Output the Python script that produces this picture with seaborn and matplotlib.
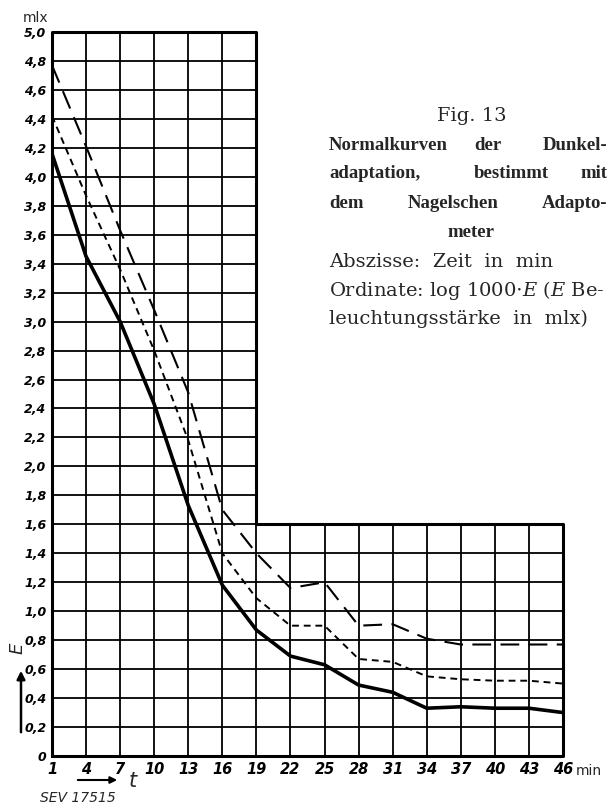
import numpy as np
import pandas as pd
import matplotlib
matplotlib.use("Agg")
import matplotlib.pyplot as plt
import seaborn as sns

# ---- data ----
t_min = [1, 4, 7, 10, 13, 16, 19, 22, 25, 28, 31, 34, 37, 40, 43, 46]
solid_curve = [4.16, 3.45, 3.00, 2.43, 1.73, 1.18, 0.87, 0.69, 0.63, 0.49, 0.44, 0.33, 0.34, 0.33, 0.33, 0.30]
short_dash_curve = [4.42, 3.87, 3.36, 2.80, 2.18, 1.40, 1.09, 0.90, 0.90, 0.67, 0.65, 0.55, 0.53, 0.52, 0.52, 0.50]
long_dash_curve = [4.77, 4.21, 3.63, 3.08, 2.51, 1.70, 1.40, 1.16, 1.20, 0.90, 0.91, 0.81, 0.77, 0.77, 0.77, 0.77]
y_ticks = [round(0.2 * i, 1) for i in range(26)]
y_tick_labels = ["0"] + [f"{v:.1f}".replace(".", ",") for v in y_ticks[1:]]
x_tick_labels = [str(v) for v in t_min]
x_step = 19      # grid column up to which the tall part extends
y_step = 1.6     # height of the low part of the grid

sns.set_theme(style="white")
plt.rcParams['font.family'] = ['DejaVu Sans']

W, H = 614, 808
fig = plt.figure(figsize=(W / 100, H / 100), dpi=100)
L, R, T, B = 52, 563, 32, 756
ax = fig.add_axes([L / W, 1 - B / H, (R - L) / W, (B - T) / H])
ax.set_xlim(1, 46)
ax.set_ylim(0, 5.0)
for s in ax.spines.values():
    s.set_visible(False)
ax.set_facecolor("white")
ax.grid(False)

gkw = dict(color="black", lw=1.3, solid_capstyle="butt", zorder=1, clip_on=False)
# vertical grid lines
for x in t_min:
    top = 5.0 if x <= x_step else y_step
    ax.plot([x, x], [0, top], **gkw)
# horizontal grid lines
for y in y_ticks:
    right = 46 if y <= y_step + 1e-9 else x_step
    ax.plot([1, right], [y, y], **gkw)
# outer L-shaped frame
ax.plot([1, 1, x_step, x_step, 46, 46, 1], [0, 5.0, 5.0, y_step, y_step, 0, 0],
        color="black", lw=2.2, zorder=2, clip_on=False, solid_joinstyle="round")

df = pd.DataFrame({"t": t_min, "solid": solid_curve, "short": short_dash_curve, "long": long_dash_curve})
sns.lineplot(data=df, x="t", y="solid", ax=ax, color="black", lw=2.6, zorder=5)
l2 = sns.lineplot(data=df, x="t", y="short", ax=ax, color="black", lw=1.4, zorder=5)
l2.lines[-1].set_dashes([3.5, 2.5])
l3 = sns.lineplot(data=df, x="t", y="long", ax=ax, color="black", lw=1.5, zorder=5)
l3.lines[-1].set_dashes([9, 4.5])

ax.set_xlabel("")
ax.set_ylabel("")
ax.set_xticks(t_min)
ax.set_xticklabels(x_tick_labels, fontstyle="italic", fontsize=10.5, fontweight="bold")
ax.set_yticks(y_ticks)
ax.set_yticklabels(y_tick_labels, fontstyle="italic", fontsize=9, fontweight="bold")
ax.tick_params(axis="both", length=0, pad=4, colors="black")

# annotations around axes
fig.text(23 / W, 1 - 18 / H, "mlx", fontsize=10, ha="left", va="center")
fig.text(589 / W, 1 - 771 / H, "min", fontsize=10, ha="center", va="center")
fig.text(18 / W, 1 - 648 / H, "E", fontsize=13, fontstyle="italic", rotation=90, ha="center", va="center")
fig.patches.append(matplotlib.patches.FancyArrowPatch((21 / W, 1 - 735 / H), (21 / W, 1 - 668 / H),
                   transform=fig.transFigure, arrowstyle="-|>", mutation_scale=12, lw=1.8, color="black"))
fig.patches.append(matplotlib.patches.FancyArrowPatch((75 / W, 1 - 780 / H), (120 / W, 1 - 780 / H),
                   transform=fig.transFigure, arrowstyle="-|>", mutation_scale=10, lw=1.5, color="black"))
fig.text(133 / W, 1 - 781 / H, "t", fontsize=15, fontstyle="italic", ha="center", va="center")
fig.text(40 / W, 1 - 798 / H, "SEV 17515", fontsize=10, fontstyle="italic", ha="left", va="center")

# caption block
serif = ["DejaVu Serif"]
bold_serif = ["Liberation Serif"]
plt.rcParams['mathtext.fontset'] = 'dejavuserif'
cap_fs = 14
bold_fs = 13.5
xl, xr = 329, 607
fig.text(472 / W, 1 - 116 / H, "Fig. 13", fontsize=cap_fs, family=serif, ha="center", va="center")
bold_lines = [
    (145, [("Normalkurven", "l", xl), ("der", "c", 488), ("Dunkel-", "r", xr)]),
    (174, [("adaptation,", "l", xl), ("bestimmt", "c", 511), ("mit", "r", xr)]),
    (203, [("dem", "l", xl), ("Nagelschen", "c", 453), ("Adapto-", "r", xr)]),
    (233, [("meter", "c", 471)]),
]
ha_map = {"l": "left", "c": "center", "r": "right"}
for yy, words in bold_lines:
    for w, a, xx in words:
        fig.text(xx / W, 1 - yy / H, w, fontsize=bold_fs, family=bold_serif, fontweight="bold",
                 ha=ha_map[a], va="center")
fig.text(xl / W, 1 - 262 / H, "Abszisse:  Zeit  in  min", fontsize=cap_fs, family=serif, ha="left", va="center")
fig.text(xl / W, 1 - 291 / H, r"Ordinate: log 1000$\cdot E$ ($E$ Be-", fontsize=cap_fs, family=serif, ha="left", va="center")
fig.text(xl / W, 1 - 319 / H, "leuchtungsstärke  in  mlx)", fontsize=cap_fs, family=serif, ha="left", va="center")

fig.savefig("out.png", dpi=100, facecolor="white")
